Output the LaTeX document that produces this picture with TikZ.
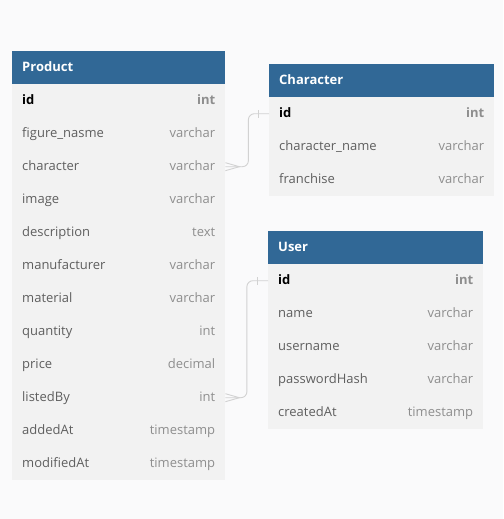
\documentclass[tikz,border=0pt]{standalone}
\usepackage{fontspec}
\setmainfont{Open Sans}
\definecolor{bgc}{HTML}{FAFAFB}
\definecolor{hdr}{HTML}{316896}
\definecolor{bodyc}{HTML}{F2F2F2}
\definecolor{fieldc}{HTML}{5F5F5F}
\definecolor{typec}{HTML}{8E8E8E}
\definecolor{linkc}{HTML}{D2D2D2}
\tikzset{
  hdrbox/.style={fill=hdr, draw=none, minimum height=33pt, anchor=north west, inner sep=0pt},
  rowbox/.style={fill=bodyc, draw=none, minimum height=33pt, anchor=north west, inner sep=0pt},
  title/.style={text=white, font=\fontsize{13}{15}\selectfont\bfseries, anchor=base west, inner sep=0pt},
  fname/.style={text=fieldc, font=\fontsize{13}{15}\selectfont, anchor=base west, inner sep=0pt},
  ftype/.style={text=typec, font=\fontsize{13}{15}\selectfont, anchor=base east, inner sep=0pt},
  keyname/.style={text=black, font=\fontsize{13}{15}\selectfont\bfseries, anchor=base west, inner sep=0pt},
  keytype/.style={text=typec, font=\fontsize{13}{15}\selectfont\bfseries, anchor=base east, inner sep=0pt},
  link/.style={draw=linkc, line width=0.9pt, rounded corners=6pt},
  linkmark/.style={draw=linkc, line width=0.9pt},
}
\begin{document}
\begin{tikzpicture}[x=1pt,y=-1pt]
\fill[bgc] (0,0) rectangle (503,519);
\useasboundingbox (0,0) rectangle (503,519);

% ---------- Product ----------
\node[hdrbox, minimum width=213pt] (P) at (12,51) {};
\node[title] at ([xshift=10pt,yshift=-3.5pt]P.west) {Product};
\foreach \n [count=\i from 0] in {id, fig, character, image, description, manufacturer, material, quantity, price, listedBy, addedAt, modifiedAt}{
  \node[rowbox, minimum width=213pt] (P-\n) at (12,{84+33*\i}) {};
}
\node[keyname] at ([xshift=10pt,yshift=-3.5pt]P-id.west) {id};
\node[keytype] at ([xshift=-10pt,yshift=-3.5pt]P-id.east) {int};
\foreach \n/\f/\t in {fig/figure\_nasme/varchar, character/character/varchar, image/image/varchar, description/description/text, manufacturer/manufacturer/varchar, material/material/varchar, quantity/quantity/int, price/price/decimal, listedBy/listedBy/int, addedAt/addedAt/timestamp, modifiedAt/modifiedAt/timestamp}{
  \node[fname] at ([xshift=10pt,yshift=-3.5pt]P-\n.west) {\f};
  \node[ftype] at ([xshift=-10pt,yshift=-3.5pt]P-\n.east) {\t};
}

% ---------- Character ----------
\node[hdrbox, minimum width=225pt] (C) at (269,64) {};
\node[title] at ([xshift=10pt,yshift=-3.5pt]C.west) {Character};
\foreach \n [count=\i from 0] in {id, name, franchise}{
  \node[rowbox, minimum width=225pt] (C-\n) at (269,{97+33*\i}) {};
}
\node[keyname] at ([xshift=10pt,yshift=-3.5pt]C-id.west) {id};
\node[keytype] at ([xshift=-10pt,yshift=-3.5pt]C-id.east) {int};
\node[fname] at ([xshift=10pt,yshift=-3.5pt]C-name.west) {character\_name};
\node[ftype] at ([xshift=-10pt,yshift=-3.5pt]C-name.east) {varchar};
\node[fname] at ([xshift=10pt,yshift=-3.5pt]C-franchise.west) {franchise};
\node[ftype] at ([xshift=-10pt,yshift=-3.5pt]C-franchise.east) {varchar};

% ---------- User ----------
\node[hdrbox, minimum width=215pt] (U) at (268,231) {};
\node[title] at ([xshift=10pt,yshift=-3.5pt]U.west) {User};
\foreach \n [count=\i from 0] in {id, name, username, passwordHash, createdAt}{
  \node[rowbox, minimum width=215pt] (U-\n) at (268,{264+33*\i}) {};
}
\node[keyname] at ([xshift=10pt,yshift=-3.5pt]U-id.west) {id};
\node[keytype] at ([xshift=-10pt,yshift=-3.5pt]U-id.east) {int};
\foreach \n/\t in {name/varchar, username/varchar, passwordHash/varchar, createdAt/timestamp}{
  \node[fname] at ([xshift=10pt,yshift=-3.5pt]U-\n.west) {\n};
  \node[ftype] at ([xshift=-10pt,yshift=-3.5pt]U-\n.east) {\t};
}

% ---------- Connectors ----------
\draw[link] (P-character.east) -- ++(23,0) |- (C-id.west);
\draw[linkmark] ([yshift=-4pt]P-character.east) -- ([xshift=14pt]P-character.east) -- ([yshift=4pt]P-character.east);
\draw[linkmark] ([xshift=-11pt,yshift=-4pt]C-id.west) -- ([xshift=-11pt,yshift=4pt]C-id.west);

\draw[link] (P-listedBy.east) -- ++(21.5,0) |- (U-id.west);
\draw[linkmark] ([yshift=-4pt]P-listedBy.east) -- ([xshift=14pt]P-listedBy.east) -- ([yshift=4pt]P-listedBy.east);
\draw[linkmark] ([xshift=-11pt,yshift=-4pt]U-id.west) -- ([xshift=-11pt,yshift=4pt]U-id.west);
\end{tikzpicture}
\end{document}
